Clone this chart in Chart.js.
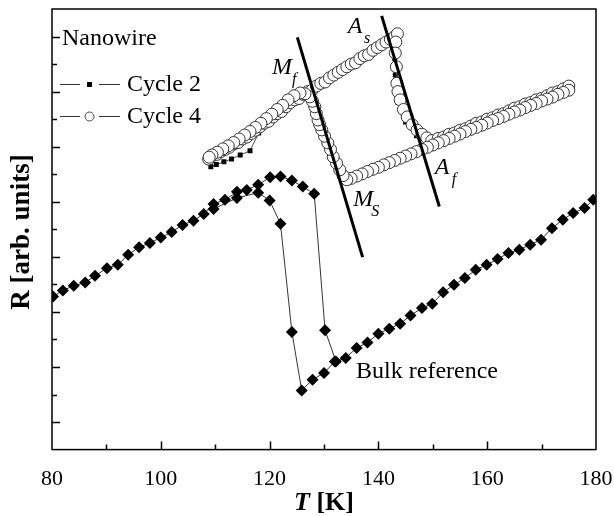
<!DOCTYPE html>
<html>
<head>
<meta charset="utf-8">
<script src="https://cdn.jsdelivr.net/npm/chart.js@4/dist/chart.umd.min.js"></script>
<style>
  html, body { margin: 0; padding: 0; background: #fff; }
  #chart { display: block; }
</style>
</head>
<body>
<canvas id="chart" width="614" height="516"></canvas>
<script>
// Bulk reference, two branches of the loop (T in K, R in arb. units)
const bulkUpperT = [80.2, 82.0, 84.0, 86.1, 87.9, 90.1, 92.1, 94.0, 96.0, 98.0, 100.0, 102.0, 104.0, 106.0, 107.9, 109.7, 111.8, 114.0, 115.8, 117.9, 120.1, 122.0, 124.1, 126.1, 128.2, 130.2, 132.2,
    134.0, 136.0, 138.0, 140.0, 142.0, 144.0, 145.9, 148.0, 149.9, 151.9, 153.9, 155.9, 157.9, 159.9, 161.9, 163.9, 165.9, 167.9, 169.9, 171.9, 173.9, 175.8, 177.9, 179.5];
const bulkUpperR = [5.56, 5.78, 5.95, 6.07, 6.31, 6.59, 6.71, 7.08, 7.35, 7.50, 7.70, 7.90, 8.16, 8.31, 8.56, 8.92, 9.07, 9.36, 9.43, 9.62, 9.89, 9.92, 9.77, 9.55, 9.29, 4.33, 3.20,
    3.33, 3.69, 3.89, 4.21, 4.39, 4.57, 4.87, 5.14, 5.30, 5.71, 5.99, 6.23, 6.53, 6.71, 6.92, 7.14, 7.26, 7.44, 7.62, 8.04, 8.35, 8.59, 8.77, 9.07];
const bulkLowerT = [109.7, 114.0, 117.9, 120.0, 122.0, 124.1, 125.9, 127.9, 130.0, 132.0];
const bulkLowerR = [8.74, 9.14, 9.33, 9.05, 8.20, 4.27, 2.15, 2.54, 2.78, 3.20];

// Nanowire, cycle 4 (open circles): heating then cooling
const c4HeatT = [108.8, 109.5, 110.3, 111.0, 111.8, 112.6, 113.4, 114.2, 115.0, 115.8, 116.6, 117.4, 118.2, 119.0, 119.8, 120.6, 121.4, 122.2, 123.0, 123.8, 124.6, 125.4, 126.2, 127.0, 127.8, 128.6, 129.4, 130.2, 131.0, 131.8, 132.6, 133.4, 134.2, 135.0, 135.8, 136.6, 137.4, 138.2, 139.0, 139.8, 140.6, 141.4, 142.2, 143.0, 143.5,
    143.2, 143.1, 143.3, 143.4, 143.6, 144.0, 144.6, 145.3, 146.2, 147.1, 148.0, 148.9, 149.8,
    151.0, 152.0, 153.0, 154.0, 155.0, 156.0, 157.0, 158.0, 159.0, 160.0, 161.0, 162.0, 163.0, 164.0, 165.0, 166.0, 167.0, 168.0, 169.0, 170.0, 171.0, 172.0, 173.0, 174.0, 175.0];
const c4HeatR = [10.55, 10.68, 10.72, 10.82, 10.90, 10.98, 11.10, 11.15, 11.28, 11.35, 11.48, 11.60, 11.72, 11.85, 11.92, 12.08, 12.20, 12.28, 12.45, 12.60, 12.70, 12.75, 12.90, 13.00, 13.05, 13.20, 13.30, 13.35, 13.50, 13.60, 13.70, 13.80, 13.90, 14.00, 14.05, 14.20, 14.30, 14.35, 14.50, 14.60, 14.70, 14.80, 14.90, 15.00, 15.10,
    14.80, 14.40, 13.90, 13.30, 13.00, 12.70, 12.35, 12.08, 11.80, 11.60, 11.45, 11.32, 11.22,
    11.30, 11.35, 11.45, 11.50, 11.60, 11.65, 11.75, 11.85, 11.90, 12.00, 12.05, 12.15, 12.20, 12.30, 12.40, 12.45, 12.55, 12.60, 12.70, 12.75, 12.85, 12.95, 13.00, 13.10, 13.20];
const c4CoolT = [175.0, 174.0, 173.0, 172.0, 171.0, 170.0, 169.0, 168.0, 167.0, 166.0, 165.0, 164.0, 163.0, 162.0, 161.0, 160.0, 159.0, 158.0, 157.0, 156.0, 155.0, 154.0, 153.0, 152.0, 151.0, 150.0, 149.0, 148.0, 147.0, 146.0, 145.0, 144.0, 143.0, 142.0, 141.0, 140.0, 139.0, 138.0, 137.0, 136.0, 135.0, 134.2,
    133.5, 132.9, 132.3, 131.7, 131.2, 130.7, 130.1, 129.6, 129.2, 128.9, 128.6, 128.3, 127.9, 127.4, 126.5, 125.6, 124.5, 123.4,
    122.4, 121.4, 120.4, 119.4, 118.4, 117.4, 116.4, 115.4, 114.4, 113.4, 112.4, 111.4, 110.4, 109.4, 108.9];
const c4CoolR = [13.05, 12.97, 12.90, 12.80, 12.73, 12.66, 12.57, 12.50, 12.42, 12.33, 12.26, 12.18, 12.10, 12.02, 11.95, 11.86, 11.78, 11.70, 11.63, 11.55, 11.46, 11.38, 11.30, 11.22, 11.14, 11.06, 10.98, 10.90, 10.82, 10.74, 10.66, 10.58, 10.50, 10.42, 10.34, 10.25, 10.18, 10.10, 10.01, 9.93, 9.85, 9.80,
    9.95, 10.16, 10.40, 10.63, 10.90, 11.14, 11.38, 11.61, 11.80, 11.97, 12.20, 12.45, 12.65, 12.81, 12.92, 12.95, 12.85, 12.70,
    12.50, 12.35, 12.18, 12.02, 11.85, 11.70, 11.55, 11.42, 11.28, 11.15, 11.03, 10.92, 10.80, 10.70, 10.62];

// Nanowire, cycle 2 (small filled squares)
const c2T = [109.0, 110.0, 111.2, 112.4, 113.6, 115.0, 116.5, 118.0, 120.0, 122.0, 124.0, 126.0, 128.0, 130.0, 132.0, 134.0, 136.0, 138.0, 140.0, 142.0, 143.0,
    143.0, 143.1, 143.2, 143.6, 145.0, 147.0, 149.0, 152.0, 155.0, 158.0, 161.0, 164.0, 167.0, 170.0, 173.0, 175.0,
    172.0, 169.0, 166.0, 163.0, 160.0, 157.0, 154.0, 151.0, 148.0, 145.0, 142.0, 139.0, 136.0, 134.0, 132.8, 131.5, 130.3, 129.3, 128.5, 127.3, 125.5, 123.0, 120.0, 118.0,
    116.4, 114.6, 113.0, 111.6, 110.2, 109.2];
const c2R = [10.45, 10.62, 10.78, 10.92, 11.05, 11.22, 11.42, 11.65, 11.95, 12.22, 12.55, 12.80, 13.10, 13.30, 13.55, 13.80, 14.05, 14.30, 14.55, 14.85, 14.95,
    14.20, 13.60, 13.30, 12.60, 11.90, 11.40, 11.15, 11.30, 11.55, 11.80, 12.05, 12.30, 12.50, 12.75, 13.00, 13.15,
    12.85, 12.60, 12.35, 12.10, 11.85, 11.60, 11.40, 11.15, 10.90, 10.65, 10.45, 10.20, 9.95, 9.80, 10.20, 10.70, 11.30, 11.80, 12.30, 12.75, 12.85, 12.45, 12.00, 11.50,
    10.85, 10.70, 10.55, 10.45, 10.35, 10.27];

// Transition guide lines (Mf-Ms and As-Af)
const lineMT = [125.1, 137.1];
const lineMR = [14.97, 6.99];
const lineAT = [140.6, 151.2];
const lineAR = [15.75, 8.83];

const SERIF = '"Liberation Serif", "Times New Roman", serif';

function pts(xs, ys) {
    return xs.map((x, i) => ({ x: x, y: ys[i] }));
}

const labelsOnPlot = [
    { main: 'M', sub: 'f', T: 122.3, R: 13.86 },
    { main: 'A', sub: 's', T: 135.7, R: 15.35 },
    { main: 'A', sub: 'f', T: 151.7, R: 10.23 },
    { main: 'M', sub: 'S', T: 137.2, R: 9.07 }
];

const decorations = {
    id: 'decorations',
    afterDatasetsDraw(chart) {
        const ctx = chart.ctx;
        const a = chart.chartArea;
        const xs = chart.scales.x;
        const ys = chart.scales.y;
        ctx.save();

        // frame
        ctx.strokeStyle = '#000';
        ctx.lineWidth = 1.5;
        ctx.strokeRect(a.left, a.top, a.right - a.left, a.bottom - a.top);

        // inward ticks
        ctx.lineWidth = 1.5;
        ctx.beginPath();
        for (let v = 1; v < 16; v++) {
            const py = Math.round(ys.getPixelForValue(v)) + 0.5;
            const len = v % 2 === 1 ? 8 : 5;
            ctx.moveTo(a.left, py);
            ctx.lineTo(a.left + len, py);
        }
        for (let v = 90; v < 180; v += 10) {
            const px = Math.round(xs.getPixelForValue(v)) + 0.5;
            const len = v % 20 === 0 ? 8 : 5;
            ctx.moveTo(px, a.bottom);
            ctx.lineTo(px, a.bottom - len);
        }
        ctx.stroke();

        // transition labels
        ctx.fillStyle = '#000';
        ctx.textBaseline = 'middle';
        labelsOnPlot.forEach(l => {
            const px = xs.getPixelForValue(l.T);
            const py = ys.getPixelForValue(l.R);
            ctx.font = 'italic 24px ' + SERIF;
            ctx.textAlign = 'center';
            ctx.fillText(l.main, px, py);
            ctx.font = 'italic 16px ' + SERIF;
            ctx.fillText(l.sub, px + 12, py + 12);
        });

        ctx.font = '24px ' + SERIF;
        ctx.textAlign = 'left';
        ctx.fillText('Bulk reference', xs.getPixelForValue(135.9), ys.getPixelForValue(2.83));

        // legend block
        const lx = a.left;
        ctx.fillText('Nanowire', lx + 10, 39);
        ctx.fillText('Cycle 2', lx + 75, 85);
        ctx.fillText('Cycle 4', lx + 75, 117);
        ctx.strokeStyle = '#333';
        ctx.lineWidth = 1;
        [84, 116].forEach(y => {
            ctx.beginPath();
            ctx.moveTo(lx + 8, y + 0.5);
            ctx.lineTo(lx + 28, y + 0.5);
            ctx.moveTo(lx + 47, y + 0.5);
            ctx.lineTo(lx + 68, y + 0.5);
            ctx.stroke();
        });
        ctx.fillStyle = '#000';
        ctx.fillRect(lx + 35, 82, 5, 5);
        ctx.beginPath();
        ctx.arc(lx + 37.5, 116.5, 4.5, 0, Math.PI * 2);
        ctx.fillStyle = '#fff';
        ctx.fill();
        ctx.strokeStyle = '#444';
        ctx.stroke();

        // axis titles
        ctx.fillStyle = '#000';
        ctx.textAlign = 'left';
        ctx.font = 'bold italic 26px ' + SERIF;
        const tW = ctx.measureText('T').width;
        ctx.font = 'bold 26px ' + SERIF;
        const restW = ctx.measureText(' [K]').width;
        const cx = (a.left + a.right) / 2 - (tW + restW) / 2;
        ctx.font = 'bold italic 26px ' + SERIF;
        ctx.fillText('T', cx, 503);
        ctx.font = 'bold 26px ' + SERIF;
        ctx.fillText(' [K]', cx + tW, 503);

        ctx.translate(22, 232);
        ctx.rotate(-Math.PI / 2);
        ctx.textAlign = 'center';
        ctx.font = 'bold 27px ' + SERIF;
        ctx.fillText('R [arb. units]', 0, 0);
        ctx.restore();
    }
};

new Chart(document.getElementById('chart'), {
    type: 'scatter',
    data: {
        datasets: [
            { label: 'Mf-Ms', data: pts(lineMT, lineMR), showLine: true, borderColor: '#000', borderWidth: 3, pointRadius: 0, order: 0 },
            { label: 'As-Af', data: pts(lineAT, lineAR), showLine: true, borderColor: '#000', borderWidth: 3, pointRadius: 0, order: 0 },
            {
                label: 'Cycle 4', data: pts(c4HeatT.concat(c4CoolT), c4HeatR.concat(c4CoolR)),
                showLine: true, borderColor: '#444', borderWidth: 0.8,
                pointStyle: 'circle', pointRadius: 6, pointBackgroundColor: '#fff', pointBorderColor: '#333', pointBorderWidth: 1, order: 1
            },
            {
                label: 'Cycle 2', data: pts(c2T, c2R),
                showLine: true, borderColor: '#222', borderWidth: 0.8,
                pointStyle: 'rect', pointRadius: 3.5, pointBackgroundColor: '#000', pointBorderWidth: 0, order: 2
            },
            {
                label: 'Bulk upper', data: pts(bulkUpperT, bulkUpperR),
                showLine: true, borderColor: '#000', borderWidth: 0.8,
                pointStyle: 'rectRot', pointRadius: 6, pointBackgroundColor: '#000', pointBorderWidth: 0, order: 3
            },
            {
                label: 'Bulk lower', data: pts(bulkLowerT, bulkLowerR),
                showLine: true, borderColor: '#000', borderWidth: 0.8,
                pointStyle: 'rectRot', pointRadius: 6, pointBackgroundColor: '#000', pointBorderWidth: 0, order: 3
            }
        ]
    },
    options: {
        responsive: false,
        animation: false,
        devicePixelRatio: 1,
        layout: { padding: { left: 52, right: 18, top: 9, bottom: 8 } },
        plugins: { legend: { display: false }, tooltip: { enabled: false } },
        scales: {
            x: {
                type: 'linear', min: 80, max: 180,
                ticks: { stepSize: 20, color: '#000', padding: 16, maxRotation: 0, font: { family: SERIF, size: 22 } },
                grid: { display: false, drawTicks: false },
                border: { display: false },
                afterFit(scale) {
                    scale.paddingLeft = 0;
                    scale.paddingRight = 0;
                }
            },
            y: { type: 'linear', min: 0, max: 16, display: false }
        }
    },
    plugins: [decorations]
});
</script>
</body>
</html>
